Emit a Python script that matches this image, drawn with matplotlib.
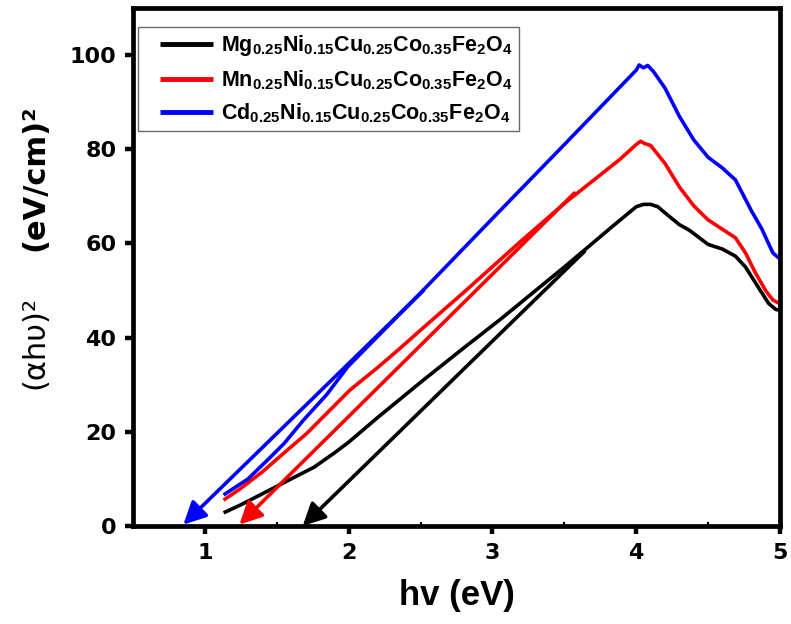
import matplotlib
matplotlib.use('Agg')
import matplotlib.pyplot as plt
import numpy as np

# Tauc plot data
mg_x = [1.13, 1.25, 1.41, 1.6, 1.76, 1.9, 2.0, 2.2, 2.52, 2.8, 3.06, 3.22, 3.5, 3.64, 3.83, 4.0,
        4.05, 4.1, 4.15, 4.2, 4.3, 4.37, 4.5, 4.6, 4.69, 4.76, 4.83, 4.92, 4.97, 5.0]
mg_y = [2.8, 4.5, 7.0, 10.0, 12.5, 15.5, 17.8, 23.0, 31.0, 37.8, 44.0, 48.0, 55.0, 58.6, 63.5, 67.8,
        68.3, 68.3, 67.8, 66.5, 64.0, 62.8, 59.8, 58.8, 57.3, 55.0, 51.6, 47.3, 46.0, 45.8]

mn_x = [1.13, 1.25, 1.4, 1.55, 1.71, 1.85, 2.01, 2.2, 2.36, 2.5, 2.8, 3.18, 3.5, 3.88, 4.0, 4.03,
        4.06, 4.1, 4.2, 4.3, 4.4, 4.5, 4.6, 4.69, 4.76, 4.83, 4.9, 4.95, 5.0]
mn_y = [5.5, 8.0, 11.5, 15.5, 19.7, 24.0, 28.9, 33.6, 37.8, 41.6, 49.6, 60.0, 68.5, 77.7, 81.0, 81.7,
        81.2, 80.8, 77.0, 72.0, 68.0, 65.0, 63.0, 61.2, 58.0, 53.7, 50.0, 48.0, 47.2]

cd_x = [1.13, 1.3, 1.435, 1.55, 1.686, 1.85, 1.993, 2.5, 3.0, 3.5, 4.0, 4.02, 4.05, 4.08, 4.12,
        4.2, 4.3, 4.4, 4.5, 4.6, 4.69, 4.8, 4.875, 4.95, 5.0]
cd_y = [6.6, 10.0, 14.0, 17.5, 22.5, 28.0, 33.8, 49.5, 65.3, 81.0, 96.8, 97.9, 97.3, 97.8, 96.5,
        93.0, 87.0, 82.0, 78.3, 76.0, 73.5, 67.0, 63.0, 58.0, 56.7]

# tangent lines (start -> band gap intercept)
mg_fit = [(3.64, 58.3), (1.68, 0.0)]
mn_fit = [(3.57, 70.7), (1.24, 0.3)]
cd_fit = [(2.52, 50.0), (0.85, 0.3)]

labels = [r'$\mathbf{Mg_{0.25}Ni_{0.15}Cu_{0.25}Co_{0.35}Fe_2O_4}$',
          r'$\mathbf{Mn_{0.25}Ni_{0.15}Cu_{0.25}Co_{0.35}Fe_2O_4}$',
          r'$\mathbf{Cd_{0.25}Ni_{0.15}Cu_{0.25}Co_{0.35}Fe_2O_4}$']
colors = ['black', 'red', 'blue']

plt.rcParams['mathtext.fontset'] = 'custom'
plt.rcParams['mathtext.bf'] = 'Liberation Sans:bold'
plt.rcParams['mathtext.rm'] = 'Liberation Sans'

fig = plt.figure(figsize=(7.91, 6.24), dpi=100)
ax = fig.add_axes([133 / 791, 98 / 624, 647 / 791, 518 / 624])

series = [(mg_x, mg_y, mg_fit), (mn_x, mn_y, mn_fit), (cd_x, cd_y, cd_fit)]
for (x, y, fit), c, lab in zip(series, colors, labels):
    ax.plot(x, y, color=c, lw=2.6, label=lab, solid_capstyle='butt')
    ax.annotate('', xy=fit[1], xytext=fit[0],
                arrowprops=dict(arrowstyle='-|>', color=c, lw=2.6,
                                mutation_scale=34, shrinkA=0, shrinkB=0))

ax.set_xlim(0.5, 5)
ax.set_ylim(0, 110)
ax.set_xticks([1, 2, 3, 4, 5])
ax.set_xticks([0.5, 1.5, 2.5, 3.5, 4.5], minor=True)
ax.set_yticks([0, 20, 40, 60, 80, 100])
ax.tick_params(axis='both', which='major', direction='out', length=6, width=3.2, pad=6)
ax.tick_params(axis='x', which='minor', direction='in', length=3, width=1.5)
for lab in ax.get_xticklabels() + ax.get_yticklabels():
    lab.set_fontfamily('DejaVu Sans')
    lab.set_fontweight('bold')
    lab.set_fontsize(16)
for sp in ax.spines.values():
    sp.set_linewidth(3.4)

ax.set_xlabel('hv (eV)', fontsize=25, fontweight='bold', family='Liberation Sans', labelpad=12)
fig.text(35 / 791, 1 - 178 / 624, '(eV/cm)²', rotation=90, ha='center', va='center',
         fontsize=22, fontweight='bold', family='DejaVu Sans')
fig.text(35 / 791, 1 - 342 / 624, '(αhυ)²', rotation=90, ha='center', va='center',
         fontsize=22, family='DejaVu Sans')

leg = ax.legend(loc='upper left', bbox_to_anchor=(5 / 647, 1 - 19 / 518), borderaxespad=0,
                fontsize=15.5, handlelength=3.2, handletextpad=0.35, labelspacing=0.45,
                fancybox=False, frameon=True, borderpad=0.3)
leg.get_frame().set_edgecolor('#444444')
leg.get_frame().set_linewidth(1.0)
for line in leg.get_lines():
    line.set_linewidth(3.5)
    xd = line.get_xdata()
    line.set_xdata(np.linspace(xd[0] + 11, xd[-1], len(xd)))

fig.savefig('out.png', dpi=100)
